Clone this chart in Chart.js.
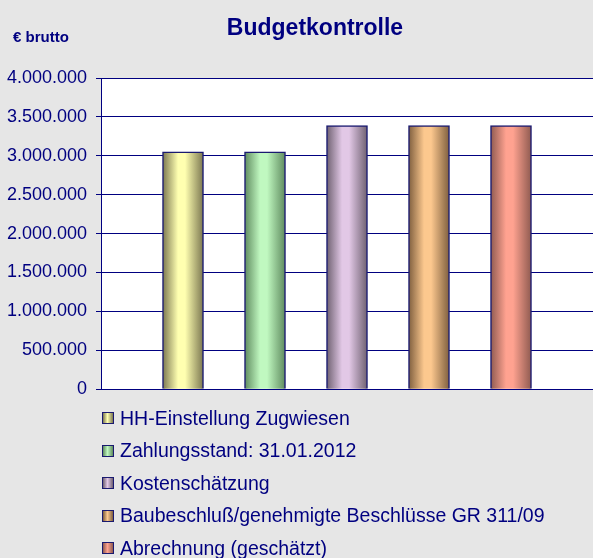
<!DOCTYPE html>
<html>
<head>
<meta charset="utf-8">
<script src="https://cdn.jsdelivr.net/npm/chart.js@4.4.1/dist/chart.umd.min.js"></script>
<style>
  body { margin: 0; background: #e6e6e6; font-family: "Liberation Sans", Arial, sans-serif; }
  #page { position: relative; width: 593px; height: 558px; overflow: hidden; }
  #chart { position: absolute; left: 0; top: 0; }
  .txt { position: absolute; color: #000080; white-space: nowrap; }
  #title { left: 0; width: 630px; top: 14px; text-align: center; font-weight: bold; font-size: 23px; }
  #unit { left: 13px; top: 28px; font-weight: bold; font-size: 15px; }
  #legend { position: absolute; left: 102px; top: 402px; }
  .item { height: 32.5px; display: flex; align-items: center; color: #000080; font-size: 19.5px; }
  .box { width: 10px; height: 10px; border: 1px solid #1a1a70; margin-right: 6px; }
</style>
</head>
<body>
<div id="page">
  <canvas id="chart" width="593" height="409"></canvas>
  <div id="title" class="txt">Budgetkontrolle</div>
  <div id="unit" class="txt">€ brutto</div>
  <div id="legend"></div>
</div>
<script>
// series (one bar each)
const seriesNames = [
  "HH-Einstellung Zugwiesen",
  "Zahlungsstand: 31.01.2012",
  "Kostenschätzung",
  "Baubeschluß/genehmigte Beschlüsse GR 311/09",
  "Abrechnung (geschätzt)"
];
const seriesValues = [3050000, 3050000, 3390000, 3390000, 3390000];
// x slots: empty slot left and right of the bars
const categories = ["", "1", "2", "3", "4", "5", ""];
const yTicks = [0, 500000, 1000000, 1500000, 2000000, 2500000, 3000000, 3500000, 4000000];

const lightColors = ["#ffffb0", "#c0f8c0", "#e2c8e6", "#fcc88e", "#ffa290"];
const darkColors = ["#7a7650", "#5e8a5e", "#6e6070", "#7e5e3e", "#8e5a50"];
const barWidth = 41;
const navy = "#000080";

function fmt(v) {
  return String(v).replace(/\B(?=(\d{3})+(?!\d))/g, ".");
}

function barFill(ctx) {
  const chart = ctx.chart;
  const i = ctx.datasetIndex;
  if (!chart.chartArea || !chart.scales.x) return lightColors[i];
  const x = chart.scales.x.getPixelForValue(ctx.dataIndex);
  const g = chart.ctx.createLinearGradient(x - barWidth / 2, 0, x + barWidth / 2, 0);
  g.addColorStop(0, darkColors[i]);
  g.addColorStop(0.38, lightColors[i]);
  g.addColorStop(0.55, lightColors[i]);
  g.addColorStop(1, darkColors[i]);
  return g;
}

const datasets = seriesNames.map((name, i) => ({
  label: name,
  data: categories.map((c, j) => (j === i + 1 ? seriesValues[i] : null)),
  backgroundColor: barFill,
  borderColor: "#1a1a70",
  borderWidth: 1.5,
  borderSkipped: "bottom",
  barThickness: barWidth,
  grouped: false
}));

const whiteArea = {
  id: "whiteArea",
  beforeDraw(chart) {
    const { ctx, chartArea: a } = chart;
    ctx.save();
    ctx.fillStyle = "#ffffff";
    ctx.fillRect(a.left, a.top, a.right - a.left, a.bottom - a.top);
    ctx.restore();
  }
};

const chart = new Chart(document.getElementById("chart"), {
  type: "bar",
  data: { labels: categories, datasets: datasets },
  options: {
    responsive: false,
    animation: false,
    layout: { padding: { top: 78, left: 0, right: 0, bottom: 0 } },
    plugins: { legend: { display: false }, tooltip: { enabled: false } },
    scales: {
      x: {
        offset: false,
        grid: { display: false },
        ticks: { display: false },
        border: { display: true, color: navy, width: 1 },
        afterFit(s) { s.height = 6; }
      },
      y: {
        min: 0,
        max: 4000000,
        afterBuildTicks(s) { s.ticks = yTicks.map(v => ({ value: v })); },
        ticks: {
          color: navy,
          padding: 9,
          font: { family: "'Liberation Sans', Arial, sans-serif", size: 18 },
          callback: v => fmt(v)
        },
        grid: { color: navy, lineWidth: 1, tickLength: 5 },
        border: { color: navy, width: 1 },
        afterFit(s) { s.width = 101; }
      }
    }
  },
  plugins: [whiteArea]
});

// legend as a vertical list, built from the chart's datasets
const legend = document.getElementById("legend");
chart.data.datasets.forEach((ds, i) => {
  const row = document.createElement("div");
  row.className = "item";
  const box = document.createElement("span");
  box.className = "box";
  box.style.background = "linear-gradient(to right, " + darkColors[i] + ", " + lightColors[i] + " 45%, " + darkColors[i] + ")";
  row.appendChild(box);
  row.appendChild(document.createTextNode(ds.label));
  legend.appendChild(row);
});
</script>
</body>
</html>
